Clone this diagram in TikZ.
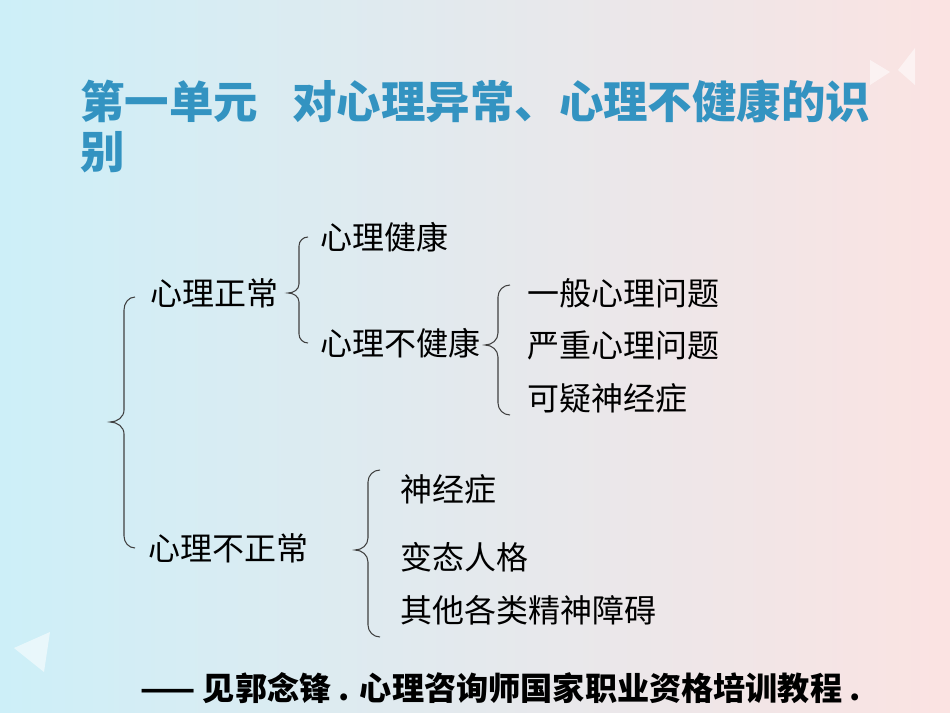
\documentclass[tikz,border=0pt]{standalone}
\usepackage{fontspec}
\setmainfont{Noto Sans CJK SC}
\definecolor{bgl}{HTML}{CDEFF8}
\definecolor{bgm}{HTML}{E9E9EE}
\definecolor{bgr}{HTML}{FBE3E2}
\definecolor{ttl}{HTML}{3393C1}
\definecolor{brc}{HTML}{404040}
\tikzset{
  body/.style={anchor=west,inner sep=0pt,font=\fontsize{18.2pt}{22pt}\selectfont,text=black},
  ttlstyle/.style={anchor=west,inner sep=0pt,font=\fontsize{25.3pt}{30pt}\selectfont\bfseries,text=ttl},
  brace/.style={draw=brc,line width=0.6pt},
  deco/.style={fill=white,opacity=0.55,draw=none}
}
\begin{document}
\begin{tikzpicture}[x=0.02cm,y=-0.02cm]
\shade[left color=bgl,middle color=bgm,right color=bgr] (0,0) rectangle (950,713);
\useasboundingbox (0,0) rectangle (950,713);
\fill[deco] (915,48) -- (898,70) -- (915,85) -- cycle;
\fill[deco] (870,60) -- (890,72) -- (870,85) -- cycle;
\fill[deco] (50,632) -- (14,648) -- (44,672) -- cycle;
\node[ttlstyle] (t1) at (80,101) {第一单元};
\node[ttlstyle] (t1b) at (292,101) {对心理异常、心理不健康的识};
\node[ttlstyle] (t2) at (80,152) {别};
\node[body] (a) at (150,293) {心理正常};
\node[body] (b) at (148,548) {心理不正常};
\node[body] (a1) at (320,237) {心理健康};
\node[body] (a2) at (320,343) {心理不健康};
\node[body] (c1) at (527,293) {一般心理问题};
\node[body] (c2) at (527,345) {严重心理问题};
\node[body] (c3) at (527,398) {可疑神经症};
\node[body] (d1) at (400,489) {神经症};
\node[body] (d2) at (400,557) {变态人格};
\node[body] (d3) at (400,610) {其他各类精神障碍};
\node[anchor=west,inner sep=0pt,font=\fontsize{18.3pt}{22pt}\selectfont\bfseries] (f) at (140,688) {—— 见郭念锋 . 心理咨询师国家职业资格培训教程 .};
% braces
\draw[brace] (135,297) to[out=180,in=90] (124,310) -- (124,410) to[out=-90,in=0] (110,422) to[out=0,in=90] (124,434) -- (124,536) to[out=-90,in=180] (135,548);
\draw[brace] (308,237) to[out=180,in=90] (299,246) -- (299,284) to[out=-90,in=0] (288,293) to[out=0,in=90] (299,302) -- (299,334) to[out=-90,in=180] (308,343);
\draw[brace] (510,285) to[out=180,in=90] (498,297) -- (498,333) to[out=-90,in=0] (485,345) to[out=0,in=90] (498,357) -- (498,403) to[out=-90,in=180] (510,415);
\draw[brace] (380,470) to[out=180,in=90] (368,482) -- (368,538) to[out=-90,in=0] (355,550) to[out=0,in=90] (368,562) -- (368,625) to[out=-90,in=180] (380,637);
\end{tikzpicture}
\end{document}
